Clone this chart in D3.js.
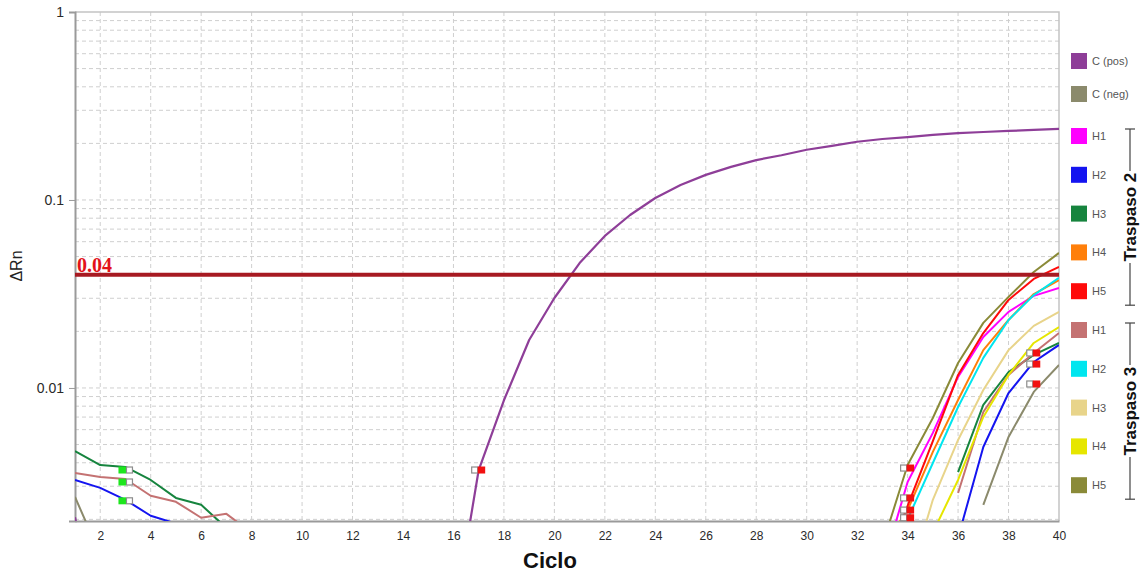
<!DOCTYPE html>
<html>
<head>
<meta charset="utf-8">
<script src="https://cdn.jsdelivr.net/npm/d3@7"></script>
<style>
  html, body { margin: 0; padding: 0; background: #fff; }
  svg { display: block; font-family: "Liberation Sans", Arial, sans-serif; }
</style>
</head>
<body>
<svg id="chart" width="1143" height="573"></svg>
<script>
// ---- data -------------------------------------------------------------
const cycles = d3.range(1, 41);            // amplification cycles 1..40
const threshold = 0.04;                      // ΔRn threshold
const yTickValues = [0.01, 0.1, 1];
const yTickLabels = ["0.01", "0.1", "1"];
const xTickValues = d3.range(2, 41, 2);

const _ = null; // no reading at this cycle
// one value per cycle (index 0 = cycle 1)
const cPos = [0.00205, 0.0005, _, _, _, _, _, _, _, _, _, _, _, _, _,
  0.00057, 0.00366, 0.0086, 0.018, 0.0301, 0.0462, 0.0644, 0.0832, 0.1025, 0.120,
  0.136, 0.150, 0.163, 0.173, 0.185, 0.194, 0.204, 0.211, 0.216, 0.222,
  0.227, 0.230, 0.233, 0.236, 0.239];
const cNeg = [0.00263, 0.0013, _, _, _, _, _, _, _, _, _, _, _, _, _, _, _, _, _, _,
  _, _, _, _, _, _, _, _, _, _, _, _, _, _, _, _,
  0.00239, 0.00549, 0.00953, 0.01325];
const t2H1 = [_, _, _, _, _, _, _, _, _, _, _, _, _, _, _, _, _, _, _, _,
  _, _, _, _, _, _, _, _, _, _, _, _,
  0.0011, 0.00316, 0.00577, 0.01145, 0.01867, 0.0254, 0.0309, 0.034];
const t2H2 = [0.00324, 0.00294, 0.00254, 0.00209, 0.0019, 0.0012, _, _, _, _,
  _, _, _, _, _, _, _, _, _, _, _, _, _, _, _, _, _, _, _, _, _, _, _, _, _,
  0.0016, 0.00485, 0.0094, 0.01375, 0.01694];
const t2H3 = [0.00462, 0.00389, 0.0038, 0.00324, 0.0026, 0.00239, 0.0018, _, _, _,
  _, _, _, _, _, _, _, _, _, _, _, _, _, _, _, _, _, _, _, _, _, _, _, _, _,
  0.00357, 0.00812, 0.01216, 0.015, 0.01735];
const t2H4 = [_, _, _, _, _, _, _, _, _, _, _, _, _, _, _, _, _, _, _, _,
  _, _, _, _, _, _, _, _, _, _, _, _,
  0.00143, 0.00224, 0.00457, 0.00863, 0.0159, 0.023, 0.0316, 0.0375];
const t2H5 = [_, _, _, _, _, _, _, _, _, _, _, _, _, _, _, _, _, _, _, _,
  _, _, _, _, _, _, _, _, _, _, _, _,
  0.00106, 0.00236, 0.00522, 0.01173, 0.0196, 0.0294, 0.038, 0.044];
const t3H1 = [0.00353, 0.00336, 0.00328, 0.00267, 0.00248, 0.00204, 0.00214, 0.0017, _, _,
  _, _, _, _, _, _, _, _, _, _, _, _, _, _, _, _, _, _, _, _, _, _, _, _, _,
  0.00276, 0.00745, 0.01173, 0.01535, 0.0196];
const t3H2 = [_, _, _, _, _, _, _, _, _, _, _, _, _, _, _, _, _, _, _, _,
  _, _, _, _, _, _, _, _, _, _, _, _,
  0.0009, 0.0020, 0.00399, 0.00792, 0.01445, 0.023, 0.0312, 0.0385];
const t3H3 = [_, _, _, _, _, _, _, _, _, _, _, _, _, _, _, _, _, _, _, _,
  _, _, _, _, _, _, _, _, _, _, _, _, _,
  0.0009, 0.00254, 0.00529, 0.00976, 0.0159, 0.0214, 0.0254];
const t3H4 = [_, _, _, _, _, _, _, _, _, _, _, _, _, _, _, _, _, _, _, _,
  _, _, _, _, _, _, _, _, _, _, _, _, _,
  0.0007, 0.0017, 0.00324, 0.00701, 0.01173, 0.01735, 0.0211];
const t3H5 = [_, _, _, _, _, _, _, _, _, _, _, _, _, _, _, _, _, _, _, _,
  _, _, _, _, _, _, _, _, _, _, _, _,
  0.00146, 0.00389, 0.00692, 0.01358, 0.0222, 0.0305, 0.0414, 0.0523];

// legend labels and series, in legend order
const seriesNames  = ["C (pos)", "C (neg)", "H1", "H2", "H3", "H4", "H5", "H1", "H2", "H3", "H4", "H5"];
const seriesValues = [cPos, cNeg, t2H1, t2H2, t2H3, t2H4, t2H5, t3H1, t3H2, t3H3, t3H4, t3H5];
const seriesColors = ["#8e3e98", "#8b8a6c", "#ff00ff", "#1414f0", "#16843e", "#ff7f0a",
                      "#ff0a0a", "#c47272", "#00e6ef", "#e8d48a", "#e6e600", "#8a8a38"];
const groups = [{ name: "Traspaso 2", first: 2, last: 6 }, { name: "Traspaso 3", first: 7, last: 11 }];

// baseline markers (cycle 3) and threshold-crossing markers
const baseCycles = [3, 3, 3];
const baseValues = [0.00366, 0.00316, 0.00251];
const ctCycles = [17, 34, 34, 34, 34, 39, 39, 39];
const ctValues = [0.00366, 0.00375, 0.0026, 0.00224, 0.00204, 0.01535, 0.0134, 0.0105];

// ---- layout -----------------------------------------------------------
const svg = d3.select("#chart");
const plot = { left: 75, right: 1059, top: 12, bottom: 521 };

const x = d3.scaleLinear().domain([1, 40]).range([plot.left, plot.right]);
const y = d3.scaleLog().domain([0.00196, 1]).range([plot.bottom, plot.top]);

svg.append("defs").append("clipPath").attr("id", "plotClip")
  .append("rect")
  .attr("x", plot.left).attr("y", plot.top)
  .attr("width", plot.right - plot.left).attr("height", plot.bottom - plot.top);

// grid
const gridColor = "#cfcfcf";
const minorY = [];
[0.001, 0.01, 0.1].forEach(d => { for (let k = 1; k <= 9; k++) minorY.push(+(d * k).toPrecision(3)); });
const gridY = minorY.filter(v => v >= 0.002 && v < 1);
svg.append("g").selectAll("line").data(gridY).join("line")
  .attr("x1", plot.left).attr("x2", plot.right)
  .attr("y1", d => y(d)).attr("y2", d => y(d))
  .attr("stroke", gridColor).attr("stroke-width", 1).attr("stroke-dasharray", "4,3");
svg.append("g").selectAll("line").data(xTickValues.filter(d => d < 40)).join("line")
  .attr("x1", d => x(d)).attr("x2", d => x(d))
  .attr("y1", plot.top).attr("y2", plot.bottom)
  .attr("stroke", gridColor).attr("stroke-width", 1).attr("stroke-dasharray", "4,3");

// frame (top and right)
svg.append("path")
  .attr("d", `M${plot.left},${plot.top}H${plot.right}V${plot.bottom}`)
  .attr("fill", "none").attr("stroke", "#c4c4c4").attr("stroke-width", 1.5);

// axes
const yAxis = d3.axisLeft(y).tickValues(yTickValues)
  .tickFormat((d, i) => yTickLabels[i]).tickSize(6).tickPadding(5);
const gy = svg.append("g").attr("transform", `translate(${plot.left},0)`).call(yAxis);
gy.select(".domain").attr("stroke", "#9a9a9a").attr("stroke-width", 2);
gy.selectAll(".tick line").attr("stroke", "#9a9a9a");
gy.selectAll(".tick text").attr("fill", "#2a2a2a").style("font-size", "14px")
  .style("font-family", "'Liberation Sans', Arial, sans-serif");

const xAxis = d3.axisBottom(x).tickValues(xTickValues).tickSize(0).tickPadding(10);
const gx = svg.append("g").attr("transform", `translate(0,${plot.bottom})`).call(xAxis);
gx.select(".domain").attr("stroke", "#9a9a9a").attr("stroke-width", 2);
gx.selectAll(".tick text").attr("fill", "#2a2a2a").style("font-size", "12px")
  .style("font-family", "'Liberation Sans', Arial, sans-serif");

// axis titles
svg.append("text").attr("x", 550).attr("y", 568).attr("text-anchor", "middle")
  .style("font-size", "22px").style("font-weight", "bold").attr("fill", "#111").text("Ciclo");
svg.append("text").attr("transform", "translate(22,266) rotate(-90)").attr("text-anchor", "middle")
  .style("font-size", "16px").attr("fill", "#222").text("ΔRn");

// curves
const line = d3.line()
  .defined(d => d.v !== null)
  .x(d => x(d.c)).y(d => y(d.v));
const curves = svg.append("g").attr("clip-path", "url(#plotClip)");
seriesValues.forEach((vals, i) => {
  const pts = cycles.map((c, k) => ({ c, v: vals[k] }));
  curves.append("path").datum(pts)
    .attr("d", line).attr("fill", "none")
    .attr("stroke", seriesColors[i]).attr("stroke-width", i === 0 ? 2.2 : 2)
    .attr("stroke-linejoin", "round");
});

// threshold line and label
svg.append("line")
  .attr("x1", plot.left).attr("x2", plot.right)
  .attr("y1", y(threshold)).attr("y2", y(threshold))
  .attr("stroke", "#a71a22").attr("stroke-width", 4);
svg.append("text").attr("x", plot.left + 2).attr("y", y(threshold) - 3)
  .style("font-family", "'Liberation Serif', 'Times New Roman', serif")
  .style("font-size", "20px").style("font-weight", "bold").attr("fill", "#e3121a")
  .text(d3.format(".2f")(threshold));

// markers: filled square plus hollow grey square
const markers = svg.append("g");
function drawPair(c, v, fill, filledRight) {
  const cx = x(c), cy = y(v);
  const hollowX = filledRight ? cx - 7 : cx + 1;
  const fillX = filledRight ? cx - 1 : cx - 7;
  markers.append("rect").attr("x", hollowX).attr("y", cy - 3).attr("width", 6).attr("height", 6)
    .attr("fill", "#fff").attr("stroke", "#8c8c8c").attr("stroke-width", 1.2);
  markers.append("rect").attr("x", fillX).attr("y", cy - 3.5).attr("width", 7.5).attr("height", 7)
    .attr("fill", fill);
}
baseCycles.forEach((c, i) => drawPair(c, baseValues[i], "#1ee61e", false));
ctCycles.forEach((c, i) => drawPair(c, ctValues[i], "#f21010", true));

// legend
const legendRows = [61, 94].concat(d3.range(5).map(k => 136 + k * 38.8), d3.range(5).map(k => 330 + k * 38.8));
const legend = svg.append("g");
seriesNames.forEach((name, i) => {
  const ly = legendRows[i];
  legend.append("rect").attr("x", 1071).attr("y", ly - 8).attr("width", 16).attr("height", 16)
    .attr("fill", seriesColors[i]);
  legend.append("text").attr("x", 1092).attr("y", ly + 4)
    .style("font-size", "11px").attr("fill", "#555").text(name);
});

// group brackets
groups.forEach(g => {
  const top = legendRows[g.first] - 7, bottom = legendRows[g.last] + 14;
  const mid = (top + bottom) / 2, bx = 1130, half = 46;
  const br = svg.append("g").attr("stroke", "#444").attr("stroke-width", 1.2);
  br.append("line").attr("x1", bx - 5).attr("x2", bx + 5).attr("y1", top).attr("y2", top);
  br.append("line").attr("x1", bx - 5).attr("x2", bx + 5).attr("y1", bottom).attr("y2", bottom);
  br.append("line").attr("x1", bx).attr("x2", bx).attr("y1", top).attr("y2", mid - half);
  br.append("line").attr("x1", bx).attr("x2", bx).attr("y1", mid + half).attr("y2", bottom);
  svg.append("text").attr("transform", `translate(${bx + 6},${mid}) rotate(-90)`)
    .attr("text-anchor", "middle").style("font-size", "17px").style("font-weight", "bold")
    .attr("fill", "#111").text(g.name);
});
</script>
</body>
</html>
